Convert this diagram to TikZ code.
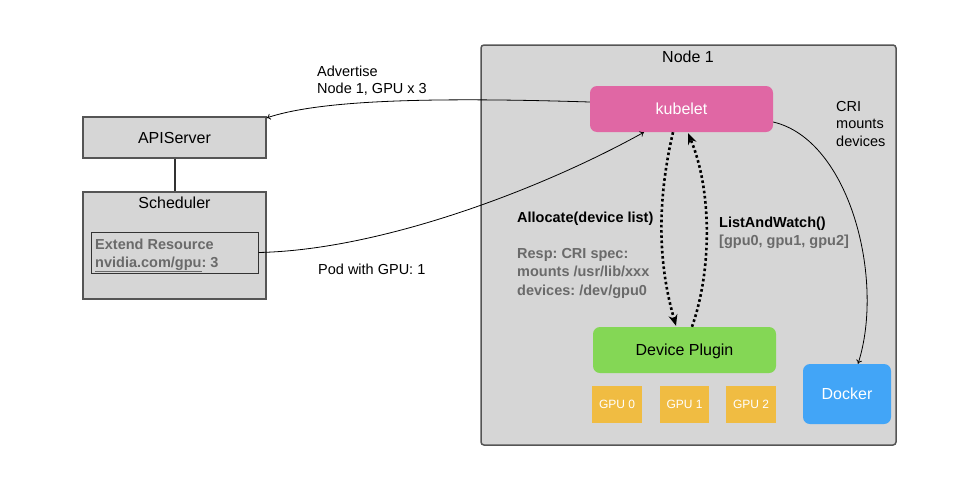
\documentclass[tikz,border=0pt]{standalone}
\usepackage{fontspec}
\setmainfont{Liberation Sans}
\usetikzlibrary{arrows.meta}
\frenchspacing
\definecolor{boxgray}{HTML}{D6D6D6}
\definecolor{edgegray}{HTML}{555555}
\definecolor{txtgray}{HTML}{6A6A6A}
\definecolor{kpink}{HTML}{E067A4}
\definecolor{pgreen}{HTML}{84D755}
\definecolor{gorange}{HTML}{F0BC42}
\definecolor{dblue}{HTML}{42A5F7}
\tikzset{
  boxlbl/.style={inner sep=0pt, text height=11.5pt, text depth=0pt, font=\fontsize{16}{19}\selectfont},
  graybox/.style={draw=edgegray, line width=1.2pt, fill=boxgray, minimum width=183pt, inner sep=0pt},
  colbox/.style={boxlbl, rounded corners=7pt, minimum width=183pt, minimum height=46pt},
  gpubox/.style={fill=gorange, minimum height=37pt, text=white, inner sep=0pt, text height=8.6pt, text depth=0pt, font=\fontsize{12}{14}\selectfont},
  lbl/.style={inner sep=0pt, anchor=base west, font=\fontsize{14.5}{17}\selectfont},
  blbl/.style={lbl, font=\fontsize{14.5}{17}\selectfont\bfseries},
  glbl/.style={blbl, text=txtgray},
  thinarrow/.style={line width=0.8pt, -{To[length=4pt,width=6pt]}},
  dotarrow/.style={line width=2.6pt, dash pattern=on 2.6pt off 2.6pt, -{Stealth[length=11pt,width=9pt]}}
}
\begin{document}
\begin{tikzpicture}[x=1pt,y=-1pt]
\useasboundingbox (0,0) rectangle (972,477);
% Node 1 container
\node[draw=edgegray, line width=1.5pt, fill=boxgray, rounded corners=3pt, minimum width=415pt, minimum height=400pt, inner sep=0pt] (node1) at (688.5,245) {};
\node[inner sep=0pt, anchor=base, font=\fontsize{16}{19}\selectfont] (node1t) at (688,62) {Node 1};
% left side
\node[graybox, boxlbl, minimum height=41pt] (api) at (174.5,137.5) {APIServer};
\node[graybox, minimum height=107pt] (sched) at (174.5,245.5) {};
\node[inner sep=0pt, anchor=base, font=\fontsize{16}{19}\selectfont] (schedt) at (174.5,208) {Scheduler};
\draw[line width=2pt, edgegray!60!black] (api.south) -- (sched.north);
\node[draw=black!80, line width=0.8pt, minimum width=167pt, minimum height=41pt, inner sep=0pt] (inner) at (174.75,252.5) {};
\node[glbl] (ext1) at (95,249) {Extend Resource};
\node[glbl] (ext2) at (95,267) {\underline{nvidia.com/gpu}: 3};
% inner nodes
\node[colbox, fill=kpink, text=white] (kubelet) at (681.5,109) {kubelet};
\node[colbox, fill=pgreen] (plugin) at (684.5,350) {Device Plugin};
\node[gpubox, minimum width=50pt] (gpu0) at (617,404.5) {GPU 0};
\node[gpubox, minimum width=49pt] (gpu1) at (684.5,404.5) {GPU 1};
\node[gpubox, minimum width=50pt] (gpu2) at (751,404.5) {GPU 2};
\node[boxlbl, fill=dblue, text=white, rounded corners=7pt, minimum width=88pt, minimum height=60pt] (docker) at (847,394) {Docker};
% labels
\node[lbl] (adv1) at (317,76) {Advertise};
\node[lbl] (adv2) at (317,93) {Node 1, GPU x 3};
\node[lbl] (pod) at (318,274) {Pod with GPU: 1};
\node[lbl] (cri1) at (836,111) {CRI};
\node[lbl] (cri2) at (836,128.5) {mounts};
\node[lbl] (cri3) at (836,146) {devices};
\node[blbl] (alloc) at (517,222) {Allocate(device list)};
\node[glbl] (resp1) at (517,258) {Resp: CRI spec:};
\node[glbl] (resp2) at (517,276.5) {mounts /usr/lib/xxx};
\node[glbl] (resp3) at (517,295) {devices: /dev/gpu0};
\node[blbl] (law) at (719,227) {ListAndWatch()};
\node[glbl] (gpus) at (719,245) {[gpu0, gpu1, gpu2]};
% connectors
\draw[thinarrow] ([yshift=7pt]kubelet.west) .. controls (430,97) and (320,100) .. ([yshift=-1.5pt]api.north east);
\draw[thinarrow] (inner.east) .. controls (380,250) and (540,190) .. ([xshift=-37.5pt]kubelet.south);
\draw[thinarrow] ([yshift=-13pt]kubelet.east) .. controls (850,140) and (885,280) .. ([xshift=11pt]docker.north);
\draw[dotarrow] ([xshift=-8.5pt]kubelet.south) .. controls (655,210) and (660,270) .. ([xshift=-8.5pt,yshift=1pt]plugin.north);
\draw[dotarrow] ([xshift=7.5pt]plugin.north) .. controls (712,270) and (712,190) .. ([xshift=6.5pt,yshift=-1pt]kubelet.south);
\end{tikzpicture}
\end{document}
